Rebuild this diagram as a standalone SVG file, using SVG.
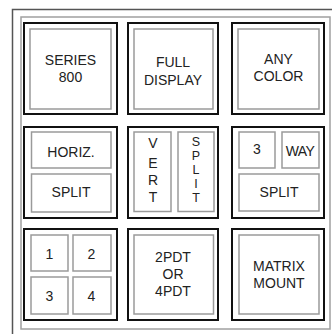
<svg xmlns="http://www.w3.org/2000/svg" width="332" height="334" viewBox="0 0 332 334">
<style>
.frame{fill:none;stroke:#555;stroke-width:1.5}
.frame2{fill:none;stroke:#a0a0a0;stroke-width:1.5}
.box{fill:#fff;stroke:#111;stroke-width:2}
.in{fill:#fff;stroke:#9a9a9a;stroke-width:1.5}
text{font-family:"Liberation Sans",Arial,sans-serif;font-size:14px;fill:#222;text-anchor:middle}
.vs{font-size:12.5px}
</style>
<rect x="0" y="0" width="332" height="334" fill="#fff"/>
<rect class="frame" x="12.5" y="9.5" width="340" height="340"/>
<rect class="frame2" x="21" y="17" width="309" height="312"/>
<g id="connectors"></g>
<g id="series800">
<rect class="box" x="24" y="23" width="93" height="91"/>
<rect class="in" x="30" y="29" width="81" height="80"/>
<text x="70.5" y="65">SERIES</text>
<text x="70.5" y="82">800</text>
</g>
<g id="fulldisplay">
<rect class="box" x="128" y="23" width="90" height="91"/>
<rect class="in" x="134" y="29" width="79" height="80"/>
<text x="173" y="67">FULL</text>
<text x="173" y="85">DISPLAY</text>
</g>
<g id="anycolor">
<rect class="box" x="232" y="23" width="92" height="91"/>
<rect class="in" x="238" y="29" width="81" height="80"/>
<text x="278.5" y="64">ANY</text>
<text x="278.5" y="81">COLOR</text>
</g>
<g id="horizsplit">
<rect class="box" x="24" y="127" width="93" height="91"/>
<rect class="in" x="31.5" y="132" width="79.5" height="36"/>
<rect class="in" x="31.5" y="174" width="79.5" height="38"/>
<text x="71" y="157">HORIZ.</text>
<text x="71" y="197">SPLIT</text>
</g>
<g id="vertsplit">
<rect class="box" x="128" y="127" width="90" height="91"/>
<rect class="in" x="134" y="132" width="37" height="79.5"/>
<rect class="in" x="178" y="132" width="36" height="79.5"/>
<text x="153" y="148">V</text>
<text x="153" y="168">E</text>
<text x="153" y="185">R</text>
<text x="153" y="202">T</text>
<text class="vs" x="196" y="146">S</text>
<text class="vs" x="196" y="160">P</text>
<text class="vs" x="196" y="174">L</text>
<text class="vs" x="196" y="188">I</text>
<text class="vs" x="196" y="202">T</text>
</g>
<g id="threewaysplit">
<rect class="box" x="232" y="127" width="92" height="91"/>
<rect class="in" x="239" y="132" width="36" height="36"/>
<rect class="in" x="282" y="132" width="37" height="36"/>
<rect class="in" x="239" y="174" width="80" height="37"/>
<text x="257" y="154">3</text>
<text x="300" y="156" letter-spacing="-0.6">WAY</text>
<text x="279" y="197">SPLIT</text>
</g>
<g id="quad">
<rect class="box" x="24" y="229" width="93" height="91"/>
<rect class="in" x="31" y="235" width="37" height="36"/>
<rect class="in" x="73" y="235" width="38" height="36"/>
<rect class="in" x="31" y="277" width="37" height="37"/>
<rect class="in" x="73" y="277" width="38" height="37"/>
<text x="49.5" y="259">1</text>
<text x="91.5" y="259">2</text>
<text x="49.5" y="301">3</text>
<text x="91.5" y="301">4</text>
</g>
<g id="pdt">
<rect class="box" x="128" y="229" width="90" height="91"/>
<rect class="in" x="134" y="235" width="79.5" height="79"/>
<text x="173" y="262">2PDT</text>
<text x="173" y="279">OR</text>
<text x="173" y="296">4PDT</text>
</g>
<g id="matrixmount">
<rect class="box" x="232" y="229" width="92" height="91"/>
<rect class="in" x="239" y="235" width="80" height="79"/>
<text x="279" y="271">MATRIX</text>
<text x="279" y="288">MOUNT</text>
</g>
</svg>
